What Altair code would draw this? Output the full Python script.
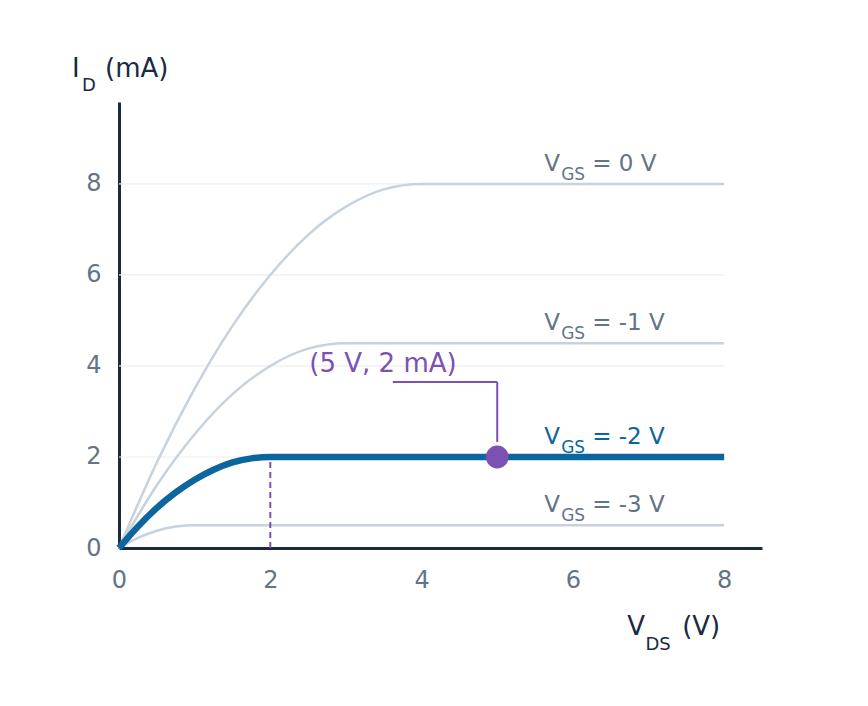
import altair as alt
import pandas as pd

# ---- data ----
vds_0 = [0, 0.5, 1, 1.5, 2, 2.5, 3, 3.5, 4, 8]
id_0 = [0, 1.88, 3.5, 4.88, 6, 6.88, 7.5, 7.88, 8, 8]
vds_1 = [0, 0.5, 1, 1.5, 2, 2.5, 3, 8]
id_1 = [0, 1.38, 2.5, 3.38, 4, 4.38, 4.5, 4.5]
vds_2 = [0, 0.25, 0.5, 0.75, 1, 1.25, 1.5, 1.75, 2, 8]
id_2 = [0, 0.47, 0.88, 1.22, 1.5, 1.72, 1.88, 1.97, 2, 2]
vds_3 = [0, 0.25, 0.5, 0.75, 1, 8]
id_3 = [0, 0.22, 0.38, 0.47, 0.5, 0.5]

label_vgs = ["0 V", "-1 V", "-2 V", "-3 V"]
label_level = [8, 4.5, 2, 0.5]
grid_levels = [2, 4, 6, 8]
ticks = [0, 2, 4, 6, 8]
q_point = (5, 2)
q_text = "(5 V, 2 mA)"

FONT = "DejaVu Sans"
GRAY = "#c7d2dd"
BLUE = "#0b659e"
PURPLE = "#7b51b3"
NAVY = "#1b2a3f"
LABEL = "#647488"

xs = alt.Scale(domain=[0, 8.5], nice=False, zero=False)
ys = alt.Scale(domain=[0, 9.8], nice=False, zero=False)
xax = alt.Axis(values=ticks, grid=False, ticks=False, tickSize=0, domainColor=NAVY,
               domainWidth=3, labelFont=FONT, labelFontSize=24, labelColor=LABEL,
               labelPadding=20, title=None, labelFlush=False)
yax = alt.Axis(values=ticks, grid=False, ticks=False, tickSize=0, domainColor=NAVY,
               domainWidth=3, labelFont=FONT, labelFontSize=24, labelColor=LABEL,
               labelPadding=18, title=None, labelFlush=False)


def X(f="x"):
    return alt.X(f"{f}:Q", scale=xs, axis=xax)


def Y(f="y"):
    return alt.Y(f"{f}:Q", scale=ys, axis=yax)


gray_df = pd.concat([
    pd.DataFrame({"x": vds_0, "y": id_0, "c": "0"}),
    pd.DataFrame({"x": vds_1, "y": id_1, "c": "-1"}),
    pd.DataFrame({"x": vds_3, "y": id_3, "c": "-3"}),
])
blue_df = pd.DataFrame({"x": vds_2, "y": id_2})

grid_df = pd.DataFrame({"x": [0] * 4, "x2": [8] * 4, "y": grid_levels})
grid = alt.Chart(grid_df).mark_rule(color="#ebeef2", strokeWidth=1.2).encode(
    x=X(), x2="x2:Q", y=Y())

gray = alt.Chart(gray_df).mark_line(color=GRAY, strokeWidth=2.5, interpolate="monotone").encode(
    x=X(), y=Y(), detail="c:N", order="x:Q")

dash_df = pd.DataFrame({"x": [2], "y": [0], "y2": [2]})
dash = alt.Chart(dash_df).mark_rule(color=PURPLE, strokeWidth=2, strokeDash=[6, 4]).encode(
    x=X(), y=Y(), y2="y2:Q")

blue = alt.Chart(blue_df).mark_line(color=BLUE, strokeWidth=6.5, interpolate="monotone").encode(
    x=X(), y=Y(), order="x:Q")

lead_df = pd.DataFrame({"x": [3.62, 5.0], "x2": [5.0, 5.0], "y": [3.65, 3.65], "y2": [3.65, 2.33]})
lead = alt.Chart(lead_df).mark_rule(color=PURPLE, strokeWidth=2).encode(
    x=X(), x2="x2:Q", y=Y(), y2="y2:Q")

pt_df = pd.DataFrame({"x": [q_point[0]], "y": [q_point[1]]})
pt = alt.Chart(pt_df).mark_circle(color=PURPLE, size=520, opacity=1).encode(x=X(), y=Y())

qt_df = pd.DataFrame({"x": [3.49], "y": [3.86], "t": [q_text]})
qt = alt.Chart(qt_df).mark_text(font=FONT, fontSize=26, color=PURPLE, align="center",
                                baseline="alphabetic").encode(x=X(), y=Y(), text="t:N")

lab_df = pd.DataFrame({"x": [5.62] * 4, "y": label_level, "t": label_vgs,
                       "col": [LABEL, LABEL, BLUE, LABEL]})
lab_v = alt.Chart(lab_df).mark_text(font=FONT, fontSize=23, align="left", baseline="alphabetic",
                                    dy=-13).encode(x=X(), y=Y(), text=alt.value("V"),
                                                   color=alt.Color("col:N", scale=None))
lab_gs = alt.Chart(lab_df).mark_text(font=FONT, fontSize=17, align="left", baseline="alphabetic",
                                     dx=17, dy=-4).encode(x=X(), y=Y(), text=alt.value("GS"),
                                                          color=alt.Color("col:N", scale=None))
lab_rest = alt.Chart(lab_df).transform_calculate(tt="'= ' + datum.t").mark_text(
    font=FONT, fontSize=23, align="left", baseline="alphabetic", dx=48, dy=-13).encode(
    x=X(), y=Y(), text="tt:N", color=alt.Color("col:N", scale=None))

# axis titles with subscripts, placed in data units outside the plot
tit_df = pd.DataFrame({
    "x": [-0.62, -0.49, -0.185, 6.72, 6.96, 7.445],
    "y": [10.35, 10.04, 10.35, -1.91, -2.24, -1.91],
    "t": ["I", "D", "(mA)", "V", "DS", "(V)"],
    "s": [26, 18, 26, 26, 18, 26],
})
tit = alt.Chart(tit_df).mark_text(font=FONT, color=NAVY, align="left", baseline="alphabetic").encode(
    x=X(), y=Y(), text="t:N", size=alt.Size("s:Q", scale=None, legend=None))

chart = alt.layer(grid, gray, dash, blue, lead, pt, qt, lab_v, lab_gs, lab_rest, tit).properties(
    width=643, height=446,
    autosize=alt.AutoSizeParams(type="none"),
    padding={"left": 111, "top": 94, "right": 98, "bottom": 150},
    background="white",
).configure_view(stroke=None)

chart.save("out.html", embed_options={"renderer": "svg", "actions": False})
